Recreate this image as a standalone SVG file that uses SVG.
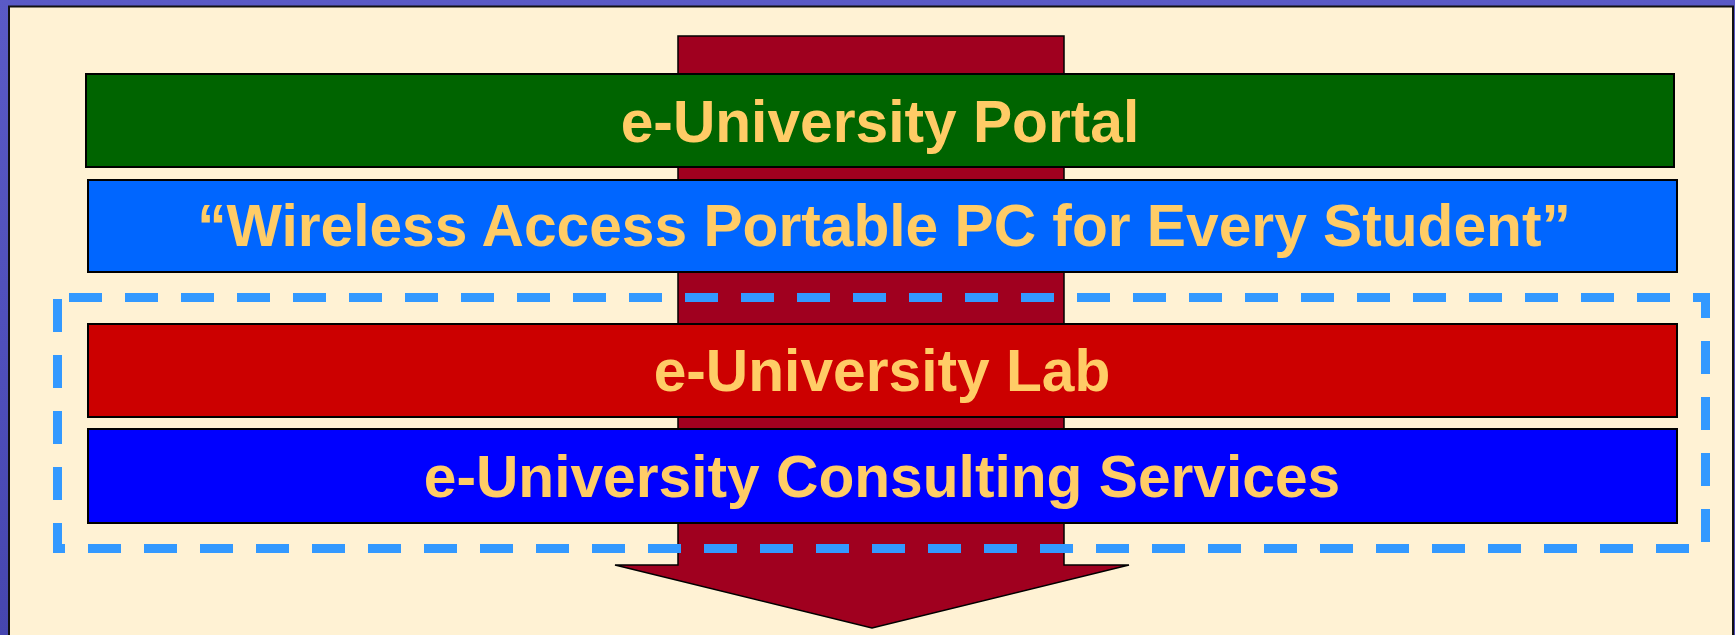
<svg xmlns="http://www.w3.org/2000/svg" width="1735" height="635" viewBox="0 0 1735 635">
  <defs>
    <linearGradient id="bg" x1="0" y1="0" x2="0" y2="1">
      <stop offset="0" stop-color="#5a5ac6"/>
      <stop offset="1" stop-color="#4646b0"/>
    </linearGradient>
    <style>
      .bar { stroke: #000; stroke-width: 2; }
      .lbl { font-family: "Liberation Sans", Arial, sans-serif; font-weight: bold; font-size: 58.7px; fill: #ffcc66; text-anchor: middle; }
    </style>
  </defs>
  <rect x="0" y="0" width="1735" height="635" fill="url(#bg)"/>
  <rect x="9" y="6.5" width="1724" height="640" fill="#fff2d4" stroke="#111" stroke-width="2"/>

  <g id="arrow">
    <polygon points="678,36 1064,36 1064,565 1129,565 872,628 615,565 678,565" fill="#a0001f" stroke="#000" stroke-width="1.5" stroke-linejoin="miter"/>
  </g>

  <g id="portal">
    <rect class="bar" x="86" y="74" width="1588" height="93" fill="#006400"/>
    <text class="lbl" x="880" y="142">e-University Portal</text>
  </g>
  <g id="wireless">
    <rect class="bar" x="88" y="180" width="1589" height="92" fill="#0066ff"/>
    <text class="lbl" x="884" y="246">“Wireless Access Portable PC for Every Student”</text>
  </g>
  <g id="lab">
    <rect class="bar" x="88" y="324" width="1589" height="93" fill="#cc0000"/>
    <text class="lbl" x="882" y="391">e-University Lab</text>
  </g>
  <g id="consulting">
    <rect class="bar" x="88" y="429" width="1589" height="94" fill="#0000ff"/>
    <text class="lbl" x="882" y="497">e-University Consulting Services</text>
  </g>

  <g id="connectors">
    <path d="M57.5,297.5 H1705.5 V548.5 H57.5 Z" fill="none" stroke="#3399ff" stroke-width="9" stroke-dasharray="33 23" stroke-dashoffset="44.5" stroke-linecap="butt" stroke-linejoin="miter"/>
  </g>
</svg>
